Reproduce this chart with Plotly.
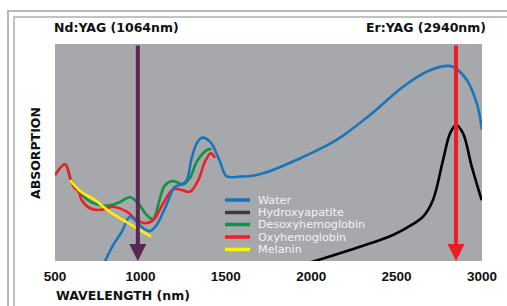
import plotly.graph_objects as go

# ---------------- data ----------------
wl_water = [770, 841, 891, 939, 978, 1017, 1056, 1095, 1144, 1203, 1242, 1271, 1300, 1330, 1359,
            1408, 1466, 1505, 1583, 1659, 1759, 1923, 2149, 2344, 2538, 2676, 2793, 2830, 2911, 2969, 3000]
abs_water = [-4, 7.4, 13.5, 20.4, 18.1, 15.1, 13.8, 16.6, 24.3, 34.2, 35.3, 37.3, 47.3, 54.2, 56.8,
             55.0, 45.8, 39.0, 38.9, 39.3, 41.5, 46.9, 55.8, 67.3, 80.3, 87.2, 89.9, 89.5, 83.4, 72.7, 60.5]

wl_hap = [1980, 2227, 2479, 2600, 2655, 2713, 2772, 2813, 2848, 2889, 2940, 2998]
abs_hap = [-1, 5.1, 12.0, 17.2, 20.4, 28.1, 46.5, 58.8, 62.7, 58.8, 43.5, 28.1]

wl_desoxy = [500, 559, 598, 646, 724, 810, 881, 939, 986, 1037, 1074, 1115, 1144, 1191, 1249, 1290, 1330, 1388, 1417]
abs_desoxy = [39.6, 44.6, 36.5, 31.3, 26.7, 25.5, 27.2, 29.4, 26.7, 21.2, 19.4, 29.0, 35.0, 36.9, 35.3, 38.2, 45.8, 51.1, 51.6]

wl_oxy = [500, 559, 592, 617, 635, 656, 705, 763, 840, 920, 978, 1027, 1076, 1134, 1193, 1242, 1290, 1339, 1378, 1412, 1437]
abs_oxy = [39.6, 44.6, 37.3, 33.5, 32.7, 28.1, 24.3, 23.5, 25.0, 22.7, 18.9, 17.4, 18.9, 26.6, 33.2, 32.7, 31.9, 37.3, 45.8, 49.6, 47.5]

wl_melanin = [588, 646, 734, 822, 939, 1062]
abs_melanin = [37.3, 32.3, 28.1, 22.6, 17.0, 11.2]

series_names = ["Water", "Hydroxyapatite", "Desoxyhemoglobin", "Oxyhemoglobin", "Melanin"]
laser_names = ["Nd:YAG (1064nm)", "Er:YAG (2940nm)"]
laser_wl = [985, 2848]
tick_vals = [500, 1000, 1500, 2000, 2500, 3000]
tick_text = ["500", "1000", "1500", "2000", "2500", "3000"]

# ---------------- styles ----------------
C_WATER, C_HAP, C_DES, C_OXY, C_MEL = "#1b75bb", "#000000", "#0f9147", "#ee1f26", "#fff200"
C_HAP_LEG = "#3a3a3c"
C_ND, C_ER = "#582852", "#ee1c25"
BG = "#a7a8ac"

W, H = 507, 306
PLOT_L, PLOT_R, PLOT_T, PLOT_B = 55, 482, 44, 261   # plot rectangle in pixels


def px(x):
    return x / W


def py(y):
    return 1 - y / H


fig = go.Figure()

curves = [
    (wl_desoxy, abs_desoxy, C_DES, series_names[2]),
    (wl_oxy, abs_oxy, C_OXY, series_names[3]),
    (wl_water, abs_water, C_WATER, series_names[0]),
    (wl_melanin, abs_melanin, C_MEL, series_names[4]),
    (wl_hap, abs_hap, C_HAP, series_names[1]),
]
for xs, ys, col, name in curves:
    fig.add_trace(go.Scatter(x=xs, y=ys, mode="lines", name=name,
                             line=dict(color=col, width=2.6, shape="spline", smoothing=1.0),
                             showlegend=False, hoverinfo="skip"))

annotations = []
shapes = []

# page frame: two bordered, empty annotation boxes running off the right edge
for (fx, fy, fw, fh, col) in [(7, 10, 540, 295, "#b8b8b8"), (13, 16, 540, 289, "#c2c2c2")]:
    annotations.append(dict(x=px(fx), y=py(fy), xref="paper", yref="paper", xanchor="left", yanchor="top",
                            text=" ", showarrow=False, width=fw, height=fh, borderpad=0,
                            bordercolor=col, borderwidth=2, bgcolor="rgba(0,0,0,0)"))

# grey plot background
shapes.append(dict(type="rect", xref="paper", yref="paper", x0=px(PLOT_L), x1=px(PLOT_R),
                   y0=py(PLOT_B), y1=py(PLOT_T), fillcolor=BG, line=dict(width=0), layer="below"))

# laser arrows
for wl, col in zip(laser_wl, [C_ND, C_ER]):
    annotations.append(dict(x=wl, y=0, ax=wl, ay=100, xref="x", yref="y", axref="x", ayref="y",
                            text="", showarrow=True, arrowhead=2, arrowsize=0.85, arrowwidth=4,
                            arrowcolor=col, standoff=0, startstandoff=0))

TITLE_FONT = dict(family="DejaVu Sans", size=12.5, color="#111")
annotations.append(dict(x=px(116), y=py(27), xref="paper", yref="paper", text="<b>" + laser_names[0] + "</b>",
                        showarrow=False, xanchor="center", yanchor="middle", font=TITLE_FONT))
annotations.append(dict(x=px(488), y=py(27), xref="paper", yref="paper", text="<b>" + laser_names[1] + "</b>",
                        showarrow=False, xanchor="right", yanchor="middle", font=TITLE_FONT))
annotations.append(dict(x=px(35), y=py(153), xref="paper", yref="paper", text="<b>ABSORPTION</b>",
                        showarrow=False, textangle=-90, xanchor="center", yanchor="middle", font=TITLE_FONT))
annotations.append(dict(x=px(122.5), y=py(295), xref="paper", yref="paper", text="<b>WAVELENGTH (nm)</b>",
                        showarrow=False, xanchor="center", yanchor="middle", font=TITLE_FONT))

# custom legend
leg_cols = [C_WATER, C_HAP_LEG, C_DES, C_OXY, C_MEL]
leg_rows = [200, 212.5, 224.5, 237, 249.5]
for name, col, ry in zip(series_names, leg_cols, leg_rows):
    shapes.append(dict(type="line", xref="paper", yref="paper", x0=px(225), x1=px(250), y0=py(ry), y1=py(ry),
                       line=dict(color=col, width=3.5)))
    annotations.append(dict(x=px(256), y=py(ry), xref="paper", yref="paper", text=name, showarrow=False,
                            xanchor="left", yanchor="middle",
                            font=dict(family="DejaVu Sans", size=11.2, color="#f2f2f2")))

fig.update_layout(
    width=W, height=H,
    margin=dict(l=0, r=0, t=0, b=0, autoexpand=False),
    paper_bgcolor="white", plot_bgcolor="rgba(0,0,0,0)",
    showlegend=False,
    annotations=annotations, shapes=shapes,
    xaxis=dict(range=[500, 3000], domain=[px(PLOT_L), px(PLOT_R)], showgrid=False, zeroline=False,
               showline=False, ticks="", automargin=False, anchor="y",
               tickvals=tick_vals, ticktext=tick_text, ticklabelstandoff=5,
               tickfont=dict(family="Liberation Sans", size=13.5, color="#111", weight="bold")),
    yaxis=dict(range=[0, 100], domain=[py(PLOT_B), py(PLOT_T)], visible=False, showgrid=False,
               zeroline=False, automargin=False, anchor="x"),
)

fig.write_html("out.html", config={"displayModeBar": False, "staticPlot": True},
               post_script="document.body.style.margin='0';document.body.style.overflow='hidden';")
